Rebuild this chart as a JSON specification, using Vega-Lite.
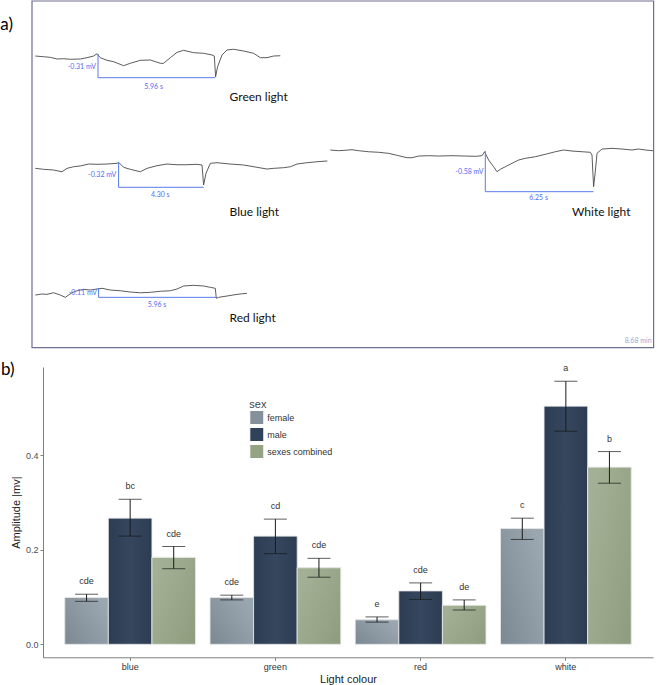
{
  "$schema": "https://vega.github.io/schema/vega-lite/v6.json",
  "padding": 0,
  "spacing": 12,
  "background": "white",
  "config": {"view": {"stroke": null}, "font": "Liberation Sans"},
  "resolve": {"scale": {"color": "independent"}, "legend": {"color": "independent"}},
  "datasets": {
    "traces": [
      {"trace":"green","t":-0.385,"v":-0.792},{"trace":"green","t":0.03,"v":-0.802},{"trace":"green","t":0.365,"v":-0.811},{"trace":"green","t":0.70,"v":-0.835},{"trace":"green","t":1.03,"v":-0.831},{"trace":"green","t":1.365,"v":-0.839},{"trace":"green","t":1.865,"v":-0.835},{"trace":"green","t":2.20,"v":-0.816},{"trace":"green","t":2.53,"v":-0.792},{"trace":"green","t":2.70,"v":-0.759},{"trace":"green","t":2.865,"v":-0.816},{"trace":"green","t":3.20,"v":-0.854},{"trace":"green","t":3.53,"v":-0.874},{"trace":"green","t":4.03,"v":-0.931},{"trace":"green","t":4.365,"v":-0.897},{"trace":"green","t":4.865,"v":-0.854},{"trace":"green","t":5.365,"v":-0.849},{"trace":"green","t":5.865,"v":-0.897},{"trace":"green","t":6.03,"v":-0.897},{"trace":"green","t":6.365,"v":-0.816},{"trace":"green","t":6.70,"v":-0.739},{"trace":"green","t":7.03,"v":-0.710},{"trace":"green","t":7.53,"v":-0.744},{"trace":"green","t":8.03,"v":-0.753},{"trace":"green","t":8.45,"v":-0.777},{"trace":"green","t":8.565,"v":-0.792},{"trace":"green","t":8.63,"v":-1.090},{"trace":"green","t":8.73,"v":-0.946},{"trace":"green","t":8.95,"v":-0.777},{"trace":"green","t":9.20,"v":-0.705},{"trace":"green","t":9.53,"v":-0.695},{"trace":"green","t":10.03,"v":-0.720},{"trace":"green","t":10.53,"v":-0.753},{"trace":"green","t":10.865,"v":-0.816},{"trace":"green","t":11.20,"v":-0.816},{"trace":"green","t":11.53,"v":-0.792},{"trace":"green","t":11.865,"v":-0.788},
      {"trace":"blue","t":-0.385,"v":-2.409},{"trace":"blue","t":0.03,"v":-2.423},{"trace":"blue","t":0.53,"v":-2.433},{"trace":"blue","t":0.95,"v":-2.458},{"trace":"blue","t":1.20,"v":-2.409},{"trace":"blue","t":1.53,"v":-2.386},{"trace":"blue","t":1.865,"v":-2.375},{"trace":"blue","t":2.28,"v":-2.347},{"trace":"blue","t":2.70,"v":-2.351},{"trace":"blue","t":3.20,"v":-2.347},{"trace":"blue","t":3.70,"v":-2.337},{"trace":"blue","t":3.78,"v":-2.322},{"trace":"blue","t":4.03,"v":-2.394},{"trace":"blue","t":4.365,"v":-2.423},{"trace":"blue","t":4.865,"v":-2.458},{"trace":"blue","t":5.20,"v":-2.409},{"trace":"blue","t":5.70,"v":-2.371},{"trace":"blue","t":6.20,"v":-2.347},{"trace":"blue","t":6.70,"v":-2.357},{"trace":"blue","t":7.20,"v":-2.357},{"trace":"blue","t":7.70,"v":-2.351},{"trace":"blue","t":7.95,"v":-2.361},{"trace":"blue","t":8.03,"v":-2.649},{"trace":"blue","t":8.15,"v":-2.481},{"trace":"blue","t":8.365,"v":-2.337},{"trace":"blue","t":8.70,"v":-2.328},{"trace":"blue","t":9.365,"v":-2.347},{"trace":"blue","t":10.03,"v":-2.361},{"trace":"blue","t":10.70,"v":-2.394},{"trace":"blue","t":11.20,"v":-2.419},{"trace":"blue","t":11.53,"v":-2.409},{"trace":"blue","t":12.03,"v":-2.400},{"trace":"blue","t":12.365,"v":-2.386},{"trace":"blue","t":12.70,"v":-2.347},{"trace":"blue","t":13.20,"v":-2.328},{"trace":"blue","t":13.70,"v":-2.314},{"trace":"blue","t":14.215,"v":-2.303},
      {"trace":"white","t":14.365,"v":-2.145},{"trace":"white","t":14.78,"v":-2.155},{"trace":"white","t":15.115,"v":-2.149},{"trace":"white","t":15.45,"v":-2.141},{"trace":"white","t":15.78,"v":-2.155},{"trace":"white","t":16.28,"v":-2.170},{"trace":"white","t":16.78,"v":-2.178},{"trace":"white","t":17.28,"v":-2.193},{"trace":"white","t":17.78,"v":-2.227},{"trace":"white","t":18.20,"v":-2.256},{"trace":"white","t":18.45,"v":-2.256},{"trace":"white","t":18.78,"v":-2.232},{"trace":"white","t":19.28,"v":-2.227},{"trace":"white","t":19.78,"v":-2.232},{"trace":"white","t":20.45,"v":-2.227},{"trace":"white","t":21.115,"v":-2.232},{"trace":"white","t":21.615,"v":-2.236},{"trace":"white","t":21.95,"v":-2.227},{"trace":"white","t":22.08,"v":-2.170},{"trace":"white","t":22.28,"v":-2.289},{"trace":"white","t":22.53,"v":-2.386},{"trace":"white","t":22.70,"v":-2.458},{"trace":"white","t":22.865,"v":-2.423},{"trace":"white","t":23.115,"v":-2.386},{"trace":"white","t":23.45,"v":-2.337},{"trace":"white","t":23.78,"v":-2.289},{"trace":"white","t":24.115,"v":-2.265},{"trace":"white","t":24.615,"v":-2.242},{"trace":"white","t":25.115,"v":-2.207},{"trace":"white","t":25.615,"v":-2.170},{"trace":"white","t":26.03,"v":-2.145},{"trace":"white","t":26.45,"v":-2.160},{"trace":"white","t":26.95,"v":-2.170},{"trace":"white","t":27.365,"v":-2.178},{"trace":"white","t":27.45,"v":-2.217},{"trace":"white","t":27.53,"v":-2.673},{"trace":"white","t":27.615,"v":-2.458},{"trace":"white","t":27.70,"v":-2.193},{"trace":"white","t":27.95,"v":-2.131},{"trace":"white","t":28.45,"v":-2.121},{"trace":"white","t":28.95,"v":-2.131},{"trace":"white","t":29.45,"v":-2.145},{"trace":"white","t":29.78,"v":-2.131},{"trace":"white","t":30.115,"v":-2.145},{"trace":"white","t":30.50,"v":-2.155},
      {"trace":"red","t":-0.385,"v":-4.233},{"trace":"red","t":-0.05,"v":-4.218},{"trace":"red","t":0.20,"v":-4.223},{"trace":"red","t":0.53,"v":-4.200},{"trace":"red","t":0.865,"v":-4.233},{"trace":"red","t":1.115,"v":-4.266},{"trace":"red","t":1.28,"v":-4.233},{"trace":"red","t":1.45,"v":-4.200},{"trace":"red","t":1.70,"v":-4.171},{"trace":"red","t":2.03,"v":-4.151},{"trace":"red","t":2.365,"v":-4.161},{"trace":"red","t":2.70,"v":-4.146},{"trace":"red","t":2.95,"v":-4.136},{"trace":"red","t":3.365,"v":-4.161},{"trace":"red","t":3.865,"v":-4.171},{"trace":"red","t":4.365,"v":-4.190},{"trace":"red","t":4.865,"v":-4.200},{"trace":"red","t":5.365,"v":-4.194},{"trace":"red","t":5.865,"v":-4.179},{"trace":"red","t":6.365,"v":-4.171},{"trace":"red","t":6.70,"v":-4.146},{"trace":"red","t":7.03,"v":-4.103},{"trace":"red","t":7.53,"v":-4.093},{"trace":"red","t":8.03,"v":-4.103},{"trace":"red","t":8.365,"v":-4.122},{"trace":"red","t":8.615,"v":-4.136},{"trace":"red","t":8.665,"v":-4.280},{"trace":"red","t":8.78,"v":-4.266},{"trace":"red","t":9.20,"v":-4.247},{"trace":"red","t":9.70,"v":-4.223},{"trace":"red","t":10.20,"v":-4.208}
    ],
    "brackets": [
      {"b":"green","i":1,"t":2.75,"v":-0.763},{"b":"green","i":2,"t":2.75,"v":-1.104},{"b":"green","i":3,"t":8.615,"v":-1.104},
      {"b":"blue","i":1,"t":3.78,"v":-2.318},{"b":"blue","i":2,"t":3.78,"v":-2.682},{"b":"blue","i":3,"t":8.03,"v":-2.682},
      {"b":"white","i":1,"t":22.115,"v":-2.160},{"b":"white","i":2,"t":22.115,"v":-2.745},{"b":"white","i":3,"t":27.53,"v":-2.745},
      {"b":"red","i":1,"t":2.78,"v":-4.132},{"b":"red","i":2,"t":2.78,"v":-4.266},{"b":"red","i":3,"t":8.65,"v":-4.266}
    ],
    "labels": [
      {"kind":"mv","text":"-0.31 mV","t":2.65,"v":-0.946},
      {"kind":"s","text":"5.96 s","t":5.53,"v":-1.234},
      {"kind":"light","text":"Green light","t":9.33,"v":-1.378},
      {"kind":"mv","text":"-0.32 mV","t":3.665,"v":-2.505},
      {"kind":"s","text":"4.30 s","t":5.865,"v":-2.793},
      {"kind":"light","text":"Blue light","t":9.33,"v":-3.033},
      {"kind":"mv","text":"-0.58 mV","t":22.03,"v":-2.466},
      {"kind":"s","text":"6.25 s","t":24.78,"v":-2.840},
      {"kind":"light","text":"White light","t":26.45,"v":-3.042},
      {"kind":"mv","text":"-0.11 mV","t":2.70,"v":-4.208},
      {"kind":"s","text":"5.96 s","t":5.70,"v":-4.377},
      {"kind":"light","text":"Red light","t":9.33,"v":-4.568},
      {"kind":"min","text":"8.68 min","t":30.43,"v":-4.895},
      {"kind":"panel","text":"a)","t":-2.135,"v":-0.346}
    ],
    "frame": [{"t0": -0.55, "t1": 30.53, "v0": 0, "v1": -4.991}],
    "bars": [
      {"light":"blue","sex":"female","amp":0.099,"lo":0.091,"hi":0.106,"letter":"cde"},
      {"light":"blue","sex":"male","amp":0.267,"lo":0.229,"hi":0.307,"letter":"bc"},
      {"light":"blue","sex":"sexes combined","amp":0.184,"lo":0.160,"hi":0.207,"letter":"cde"},
      {"light":"green","sex":"female","amp":0.099,"lo":0.094,"hi":0.104,"letter":"cde"},
      {"light":"green","sex":"male","amp":0.229,"lo":0.192,"hi":0.265,"letter":"cd"},
      {"light":"green","sex":"sexes combined","amp":0.162,"lo":0.142,"hi":0.182,"letter":"cde"},
      {"light":"red","sex":"female","amp":0.052,"lo":0.047,"hi":0.058,"letter":"e"},
      {"light":"red","sex":"male","amp":0.113,"lo":0.095,"hi":0.130,"letter":"cde"},
      {"light":"red","sex":"sexes combined","amp":0.0825,"lo":0.0726,"hi":0.094,"letter":"de"},
      {"light":"white","sex":"female","amp":0.245,"lo":0.222,"hi":0.267,"letter":"c"},
      {"light":"white","sex":"male","amp":0.504,"lo":0.451,"hi":0.557,"letter":"a"},
      {"light":"white","sex":"sexes combined","amp":0.375,"lo":0.341,"hi":0.408,"letter":"b"}
    ]
  },
  "vconcat": [
    {
      "width": 610.6,
      "height": 346.7,
      "layer": [
        {
          "data": {"name": "frame"},
          "mark": {"type": "rect", "fill": "white", "fillOpacity": 0, "stroke": "#6e6e90", "strokeWidth": 1.2},
          "encoding": {
            "x": {"field": "t0", "type": "quantitative", "scale": {"domain": [0, 30.53], "nice": false, "zero": false}, "axis": null},
            "x2": {"field": "t1"},
            "y": {"field": "v0", "type": "quantitative", "scale": {"domain": [-4.991, 0], "nice": false, "zero": false}, "axis": null},
            "y2": {"field": "v1"}
          }
        },
        {
          "data": {"name": "traces"},
          "mark": {"type": "line", "color": "#4a4a4a", "strokeWidth": 0.9},
          "encoding": {
            "x": {"field": "t", "type": "quantitative"},
            "y": {"field": "v", "type": "quantitative"},
            "detail": {"field": "trace"}
          }
        },
        {
          "data": {"name": "brackets"},
          "mark": {"type": "line", "color": "#5a7bf0", "strokeWidth": 1},
          "encoding": {
            "x": {"field": "t", "type": "quantitative"},
            "y": {"field": "v", "type": "quantitative"},
            "detail": {"field": "b"},
            "order": {"field": "i"}
          }
        },
        {
          "data": {"name": "labels"},
          "transform": [{"filter": "datum.kind == 'mv'"}],
          "mark": {"type": "text", "align": "right", "baseline": "middle", "font": "Lato", "fontSize": 7, "color": "#4f6ef5"},
          "encoding": {"x": {"field": "t", "type": "quantitative"}, "y": {"field": "v", "type": "quantitative"}, "text": {"field": "text"}}
        },
        {
          "data": {"name": "labels"},
          "transform": [{"filter": "datum.kind == 's'"}],
          "mark": {"type": "text", "align": "center", "baseline": "middle", "font": "Lato", "fontSize": 7, "color": "#4f6ef5"},
          "encoding": {"x": {"field": "t", "type": "quantitative"}, "y": {"field": "v", "type": "quantitative"}, "text": {"field": "text"}}
        },
        {
          "data": {"name": "labels"},
          "transform": [{"filter": "datum.kind == 'light'"}],
          "mark": {"type": "text", "align": "left", "baseline": "middle", "font": "Lato", "fontSize": 12, "color": "#111111"},
          "encoding": {"x": {"field": "t", "type": "quantitative"}, "y": {"field": "v", "type": "quantitative"}, "text": {"field": "text"}}
        },
        {
          "data": {"name": "labels"},
          "transform": [{"filter": "datum.kind == 'min'"}],
          "mark": {"type": "text", "align": "right", "baseline": "middle", "font": "Lato", "fontSize": 7, "color": "#a0a4d8"},
          "encoding": {"x": {"field": "t", "type": "quantitative"}, "y": {"field": "v", "type": "quantitative"}, "text": {"field": "text"}}
        },
        {
          "data": {"name": "labels"},
          "transform": [{"filter": "datum.kind == 'panel'"}],
          "mark": {"type": "text", "align": "left", "baseline": "middle", "font": "Lato", "fontSize": 17, "color": "#000000"},
          "encoding": {"x": {"field": "t", "type": "quantitative"}, "y": {"field": "v", "type": "quantitative"}, "text": {"field": "text"}}
        }
      ]
    },
    {
      "width": 610,
      "height": 290.3,
      "title": {"text": "b)", "orient": "top", "anchor": "start", "frame": "group", "dx": -42, "offset": -28, "baseline": "alphabetic", "font": "Lato", "fontSize": 17, "fontWeight": "normal", "color": "#000000"},
      "data": {"name": "bars"},
      "encoding": {
        "x": {
          "field": "light", "type": "nominal", "sort": ["blue", "green", "red", "white"],
          "scale": {"paddingInner": 0.1, "paddingOuter": 0.15},
          "title": "Light colour",
          "axis": {"labelAngle": 0, "labelFontSize": 9, "labelColor": "#333333", "labelPadding": 2, "tickSize": 3, "tickColor": "#7f7f7f", "domainColor": "#7f7f7f", "titleFontSize": 11, "titleFontWeight": "normal", "titleColor": "#222222", "titlePadding": 2}
        },
        "xOffset": {"field": "sex", "type": "nominal", "sort": ["female", "male", "sexes combined"], "scale": {"paddingInner": 0, "paddingOuter": 0}},
        "y": {
          "field": "amp", "type": "quantitative",
          "scale": {"domain": [-0.0275, 0.587], "nice": false, "zero": false},
          "title": "Amplitude |mv|",
          "axis": {"values": [0, 0.2, 0.4], "format": ".1f", "grid": false, "labelFontSize": 9, "labelColor": "#4d4d4d", "labelPadding": 2, "tickSize": 3, "tickColor": "#7f7f7f", "domainColor": "#7f7f7f", "titleFontSize": 11, "titleFontWeight": "normal", "titleColor": "#222222", "titlePadding": 4}
        }
      },
      "layer": [
        {
          "mark": {"type": "bar", "stroke": "#eeeeee", "strokeWidth": 0.8},
          "encoding": {
            "y2": {"datum": 0},
            "color": {
              "field": "sex", "type": "nominal",
              "scale": {"domain": ["female", "male", "sexes combined"], "range": ["#84919b", "#30425a", "#95a385"]},
              "legend": {"orient": "none", "legendX": 206.3, "legendY": 32, "title": "sex", "titleFontSize": 11, "titleFontWeight": "normal", "titleColor": "#444444", "titlePadding": 0, "symbolType": "square", "symbolSize": 196, "symbolStrokeColor": "#ffffff", "symbolStrokeWidth": 1, "symbolOpacity": 1, "rowPadding": -6, "labelFontSize": 9, "labelColor": "#333333", "labelOffset": 3}
            }
          }
        },
        {
          "transform": [{"filter": "datum.sex == 'female'"}],
          "mark": {"type": "bar", "stroke": "#eeeeee", "strokeWidth": 0.8, "fill": {"gradient": "linear", "x1": 0, "y1": 1, "x2": 1, "y2": 0.3, "stops": [{"offset": 0, "color": "#7b8892"}, {"offset": 1, "color": "#9ba7b0"}]}},
          "encoding": {"y2": {"datum": 0}}
        },
        {
          "transform": [{"filter": "datum.sex == 'male'"}],
          "mark": {"type": "bar", "stroke": "#eeeeee", "strokeWidth": 0.8, "fill": {"gradient": "linear", "x1": 0, "y1": 0, "x2": 1, "y2": 0, "stops": [{"offset": 0, "color": "#2c3c53"}, {"offset": 0.5, "color": "#35475e"}, {"offset": 1, "color": "#2c3c53"}]}},
          "encoding": {"y2": {"datum": 0}}
        },
        {
          "transform": [{"filter": "datum.sex == 'sexes combined'"}],
          "mark": {"type": "bar", "stroke": "#eeeeee", "strokeWidth": 0.8, "fill": {"gradient": "linear", "x1": 0, "y1": 0.3, "x2": 1, "y2": 1, "stops": [{"offset": 0, "color": "#a3b095"}, {"offset": 1, "color": "#8e9c7e"}]}},
          "encoding": {"y2": {"datum": 0}}
        },
        {
          "mark": {"type": "rule", "color": "#1a1a1a", "strokeWidth": 1},
          "encoding": {"y": {"field": "lo", "type": "quantitative"}, "y2": {"field": "hi"}}
        },
        {
          "mark": {"type": "tick", "color": "#1a1a1a", "thickness": 1, "size": 23},
          "encoding": {"y": {"field": "lo", "type": "quantitative"}}
        },
        {
          "mark": {"type": "tick", "color": "#1a1a1a", "thickness": 1, "size": 23},
          "encoding": {"y": {"field": "hi", "type": "quantitative"}}
        },
        {
          "mark": {"type": "text", "baseline": "alphabetic", "dy": -10, "fontSize": 9, "color": "#333333"},
          "encoding": {"y": {"field": "hi", "type": "quantitative"}, "text": {"field": "letter"}}
        }
      ]
    }
  ]
}
